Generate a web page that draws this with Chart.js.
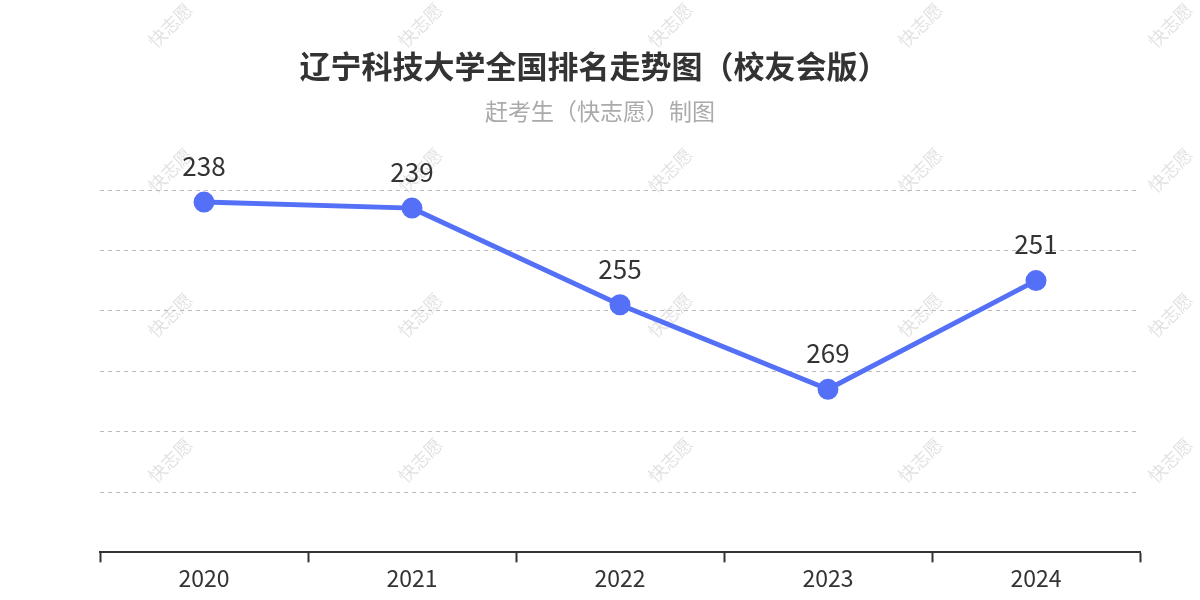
<!DOCTYPE html><html><head><meta charset="utf-8">
<script src="https://cdn.jsdelivr.net/npm/chart.js@4"></script>
<style>body{margin:0;background:#fff}#w{width:1200px;height:600px}</style></head><body>
<div id="w"><canvas id="c"></canvas></div>
<script>
const categories=['2020','2021','2022','2023','2024'];
const ranks=[238,239,255,269,251];
const titleText='辽宁科技大学全国排名走势图（校友会版）';
const subtitleText='赶考生（快志愿）制图';
const F='"Noto Sans CJK SC","Noto Sans",sans-serif';
const deco={id:'deco',
beforeDraw(ch){const c=ch.ctx;c.save();c.fillStyle='rgba(0,0,0,0.12)';c.font='18px '+F;
for(let x=175;x<1250;x+=250)for(let y=30;y<600;y+=145){c.save();c.translate(x,y);c.rotate(-Math.PI/4);c.textAlign='center';c.fillText('快志愿',0,0);c.restore();}
c.restore();},
afterDraw(ch){const c=ch.ctx;c.save();c.textAlign='center';c.textBaseline='middle';
c.fillStyle='#333';c.font='bold 31px '+F;c.fillText(titleText,594,66);
c.fillStyle='#aaa';c.font='23px '+F;c.fillText(subtitleText,600,111);
const m=ch.getDatasetMeta(0);c.fillStyle='#333';c.font='26px '+F;
m.data.forEach((p,i)=>c.fillText(String(ranks[i]),p.x,p.y-36));c.restore();}};
new Chart(document.getElementById('c'),{type:'line',
data:{labels:categories,datasets:[{data:ranks,borderColor:'#5470f6',backgroundColor:'#5470f6',borderWidth:5,pointRadius:8,pointHoverRadius:8,tension:0,clip:false}]},
options:{responsive:true,maintainAspectRatio:false,animation:false,
layout:{padding:{left:100,right:60,top:190,bottom:6}},
plugins:{legend:{display:false},tooltip:{enabled:false}},
scales:{y:{reverse:true,min:236,max:296,display:true,border:{display:false,dash:[4,4]},
ticks:{display:false,stepSize:10},grid:{color:'#bbb',lineWidth:1,drawTicks:false}},
x:{offset:true,border:{color:'#333',width:2},grid:{offset:true,display:true,drawOnChartArea:false,color:'#333',tickLength:10,tickWidth:2},
ticks:{color:'#333',font:{size:23,family:F},padding:2}}}},
plugins:[deco]});
</script></body></html>
